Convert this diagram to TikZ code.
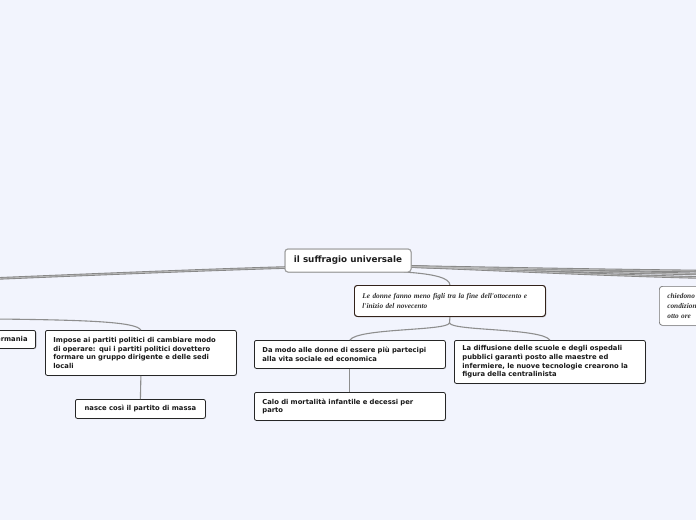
\documentclass[tikz,border=0pt]{standalone}
\usepackage{fontspec}
\setmainfont{DejaVu Sans}
\newfontfamily\handfont{Liberation Serif}
\usetikzlibrary{shadows}
\definecolor{bgc}{HTML}{F2F4FD}
\definecolor{conncol}{HTML}{8E8E8E}
\definecolor{brownb}{HTML}{33221A}
\tikzset{
  box/.style={draw=black!85, fill=white, rounded corners=2pt, line width=0.8pt,
    anchor=north west, inner xsep=8pt, inner ysep=4pt,
    font=\bfseries\fontsize{6.8}{8.8}\selectfont, text=black!90,
    drop shadow={shadow xshift=0.8pt, shadow yshift=-0.8pt, opacity=0.25}},
  handbox/.style={box, draw=brownb, line width=0.9pt, rounded corners=3pt,
    font=\handfont\bfseries\itshape\fontsize{7.3}{9.8}\selectfont, text=black!80},
  greyhand/.style={handbox, draw=black!55, line width=0.7pt},
  rootbox/.style={draw=black!38, fill=white, rounded corners=3pt, line width=1pt,
    inner sep=0pt, minimum width=126pt, minimum height=23pt,
    font=\bfseries\fontsize{8.8}{10}\selectfont, text=black!88},
  conn/.style={draw=conncol, line width=1.1pt},
  mainconn/.style={draw=black!48, line width=2.6pt},
  mainin/.style={draw=black!28, line width=0.9pt}
}
\begin{document}
\begin{tikzpicture}[x=1pt,y=-1pt]
\fill[bgc] (0,0) rectangle (696,520);
\useasboundingbox (0,0) rectangle (696,520);
\clip (0,0) rectangle (696,520);

% nodes
\node[rootbox] (root) at (348,260.5) {il suffragio universale};

\node[handbox, text width=175pt, minimum height=31pt] (ld) at (354,285)
  {Le donne fanno meno figli tra la fine dell'ottocento e\\l'inizio del novecento};

\node[greyhand, text width=175pt, minimum height=39pt] (ch) at (659,286)
  {chiedono parità\\condizioni\\otto ore};

\node[box, anchor=north east, align=right, minimum height=18pt] (ger) at (36,330) {Germania};

\node[box, text width=175pt, minimum height=45pt, align=left] (imp) at (45,330)
  {Impose ai partiti politici di cambiare modo\\di operare: qui i partiti politici dovettero\\formare un gruppo dirigente e delle sedi\\locali};

\node[box, minimum width=130pt, minimum height=19pt, align=center] (nas) at (75,399)
  {nasce così il partito di massa};

\node[box, text width=175pt, minimum height=28pt, align=left] (dm) at (254,340)
  {Da modo alle donne di essere più partecipi\\alla vita sociale ed economica};

\node[box, text width=175pt, minimum height=28pt, align=left] (calo) at (254,392)
  {Calo di mortalità infantile e decessi per\\parto};

\node[box, text width=175pt, minimum height=43pt, align=left] (dif) at (454,340)
  {La diffusione delle scuole e degli ospedali\\pubblici garantì posto alle maestre ed\\infermiere, le nuove tecnologie crearono la\\figura della centralinista};

% off-screen ends
\coordinate (offL1) at (-4,278.5);
\coordinate (offL2) at (-4,319);
\coordinate (offR1) at (700,271);
\coordinate (offR2) at (700,274);
\coordinate (offR3) at (700,277.5);
\coordinate (rl) at (286,267.5);
\coordinate (rr) at (410,266.5);
\coordinate (rb) at (404,272);
\coordinate (ldj) at (449.5,323);

% main thick branches
\foreach \s in {mainconn, mainin}{
  \draw[\s] (rl) .. controls (200,270) and (80,275) .. (offL1);
  \draw[\s] (rr) .. controls (500,268) and (600,270) .. (offR1);
  \draw[\s] (rr) .. controls (500,269) and (600,272) .. (offR2);
  \draw[\s] (rr) .. controls (500,270) and (600,275) .. (offR3);
}

% thin connectors
\draw[conn] (rb) .. controls (435,274) and (449.5,278) .. (ld.north);
\draw[conn] (offL2) .. controls (90,320) and (136,322) .. (imp.north);
\draw[conn] (ld.south) -- (ldj);
\draw[conn] (ldj) .. controls (447,331) and (358,328) .. (dm.north);
\draw[conn] (ldj) .. controls (452,331) and (541,328) .. (dif.north);
\draw[conn] (dm.south) -- (calo.north);
\draw[conn] (imp.south) -- (nas.north);

% redraw boxes on top of connectors
\node[rootbox] at (root) {il suffragio universale};
\node[handbox, text width=175pt, minimum height=31pt] at (ld.north west)
  {Le donne fanno meno figli tra la fine dell'ottocento e\\l'inizio del novecento};
\end{tikzpicture}
\end{document}
